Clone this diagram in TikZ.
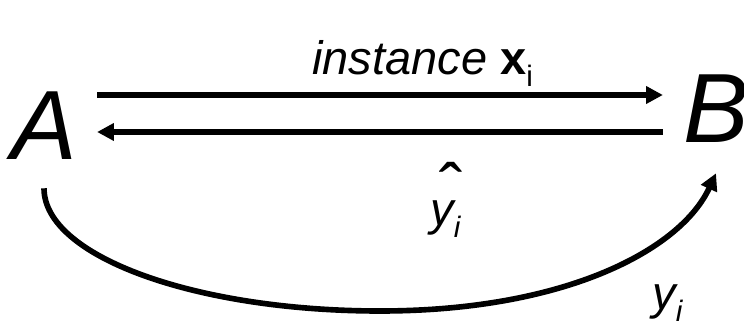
\documentclass[tikz,border=0pt]{standalone}
\usepackage{fontspec}
\setmainfont{Liberation Sans}
\usetikzlibrary{arrows.meta,positioning,calc}
\newcommand{\indice}[1]{\raisebox{-8pt}{\fontsize{21}{21}\selectfont #1}}

\begin{document}
\begin{tikzpicture}[
    x=1cm,y=1cm,
    lettre/.style = {anchor=base,inner xsep=0.5cm,inner ysep=0pt,
                     font=\fontsize{70}{80}\selectfont\itshape},
    etiq/.style   = {inner sep=0pt,font=\fontsize{33.4}{40}\selectfont\itshape},
    fleche/.style = {line width=4pt,-{Triangle[length=12pt,width=12pt]}},
  ]
  \useasboundingbox (0,0) rectangle (18.6,8);

  % -- les deux parties ------------------------------------------------------
  \node[lettre] (A) at (1.1,4.0)   {A};
  \node[lettre] (B) at (17.9,4.425) {B};

  % -- aller et retour -------------------------------------------------------
  \draw[fleche] (A.east |- 0,5.625) -- (B.west |- 0,5.625);
  \draw[fleche] (B.west |- 0,4.7)   -- (A.east |- 0,4.7);

  \node[etiq,anchor=base west] (inst) at (7.8,6.125)
       {instance \textbf{\upshape x}\indice{\upshape i}};
  \node[etiq,anchor=base,font=\fontsize{50}{50}\selectfont] (chap) at (11.275,2.65) {ˆ};
  \node[etiq,anchor=base west] (yc) at (10.75,2.35) {y\indice{i}};

  % -- le vrai label ---------------------------------------------------------
  \draw[fleche] ([yshift=-7mm]A.south) .. controls +(0,-1.7) and (4.875,0.225) .. (9.5,0.225)
        .. controls (14.15,0.225) and +(-0.875,-1.9) .. ([yshift=-7.5mm]B.south);
  \node[etiq,anchor=base west] (yv) at (16.3,0.25) {y\indice{i}};

\end{tikzpicture}
\end{document}
